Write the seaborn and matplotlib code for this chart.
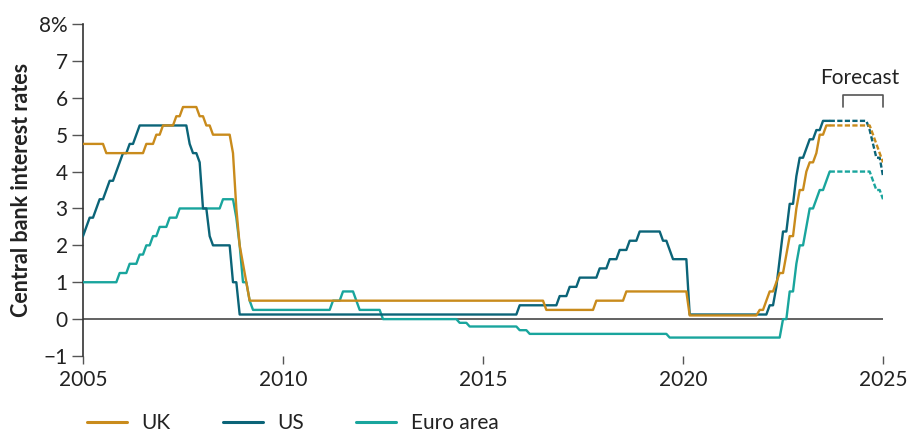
import pandas as pd
import matplotlib.pyplot as plt
import seaborn as sns

# Policy rates: month of each change and the new rate (%), forecast path included
uk_dates = ["2005-01", "2005-08", "2006-08", "2006-11", "2007-01", "2007-05", "2007-07",
            "2007-12", "2008-02", "2008-04", "2008-10", "2008-11", "2008-12", "2009-01",
            "2009-02", "2009-03", "2016-08", "2017-11", "2018-08", "2020-03", "2021-12",
            "2022-02", "2022-03", "2022-05", "2022-06", "2022-08", "2022-09", "2022-11",
            "2022-12", "2023-02", "2023-03", "2023-05", "2023-06", "2023-08", "2024-10",
            "2024-11", "2024-12", "2025-01"]
uk_rates = [4.75, 4.5, 4.75, 5.0, 5.25, 5.5, 5.75,
            5.5, 5.25, 5.0, 4.5, 3.0, 2.0, 1.5,
            1.0, 0.5, 0.25, 0.5, 0.75, 0.1, 0.25,
            0.5, 0.75, 1.0, 1.25, 1.75, 2.25, 3.0,
            3.5, 4.0, 4.25, 4.5, 5.0, 5.25, 5.0,
            4.75, 4.5, 4.25]

us_dates = ["2005-01", "2005-02", "2005-03", "2005-05", "2005-06", "2005-08", "2005-09",
            "2005-11", "2005-12", "2006-01", "2006-03", "2006-05", "2006-06", "2007-09",
            "2007-10", "2007-12", "2008-01", "2008-03", "2008-04", "2008-10", "2008-12",
            "2015-12", "2016-12", "2017-03", "2017-06", "2017-12", "2018-03", "2018-06",
            "2018-09", "2018-12", "2019-07", "2019-09", "2019-10", "2020-03", "2022-03",
            "2022-05", "2022-06", "2022-07", "2022-09", "2022-11", "2022-12", "2023-02",
            "2023-03", "2023-05", "2023-07", "2024-09", "2024-10", "2024-11", "2025-01"]
us_rates = [2.25, 2.5, 2.75, 3.0, 3.25, 3.5, 3.75,
            4.0, 4.25, 4.5, 4.75, 5.0, 5.25, 4.75,
            4.5, 4.25, 3.0, 2.25, 2.0, 1.0, 0.125,
            0.375, 0.625, 0.875, 1.125, 1.375, 1.625, 1.875,
            2.125, 2.375, 2.125, 1.875, 1.625, 0.125, 0.375,
            0.875, 1.625, 2.375, 3.125, 3.875, 4.375, 4.625,
            4.875, 5.125, 5.375, 5.125, 4.75, 4.375, 3.875]

euro_dates = ["2005-01", "2005-12", "2006-03", "2006-06", "2006-08", "2006-10", "2006-12",
              "2007-03", "2007-06", "2008-07", "2008-11", "2008-12", "2009-01", "2009-03",
              "2009-04", "2011-04", "2011-07", "2011-11", "2011-12", "2012-07", "2014-06",
              "2014-09", "2015-12", "2016-03", "2019-09", "2022-07", "2022-09", "2022-11",
              "2022-12", "2023-02", "2023-03", "2023-05", "2023-06", "2023-08", "2023-09",
              "2024-10", "2024-11", "2025-01"]
euro_rates = [1.0, 1.25, 1.5, 1.75, 2.0, 2.25, 2.5,
              2.75, 3.0, 3.25, 2.75, 2.0, 1.0, 0.5,
              0.25, 0.5, 0.75, 0.5, 0.25, 0.0, -0.1,
              -0.2, -0.3, -0.4, -0.5, 0.0, 0.75, 1.5,
              2.0, 2.5, 3.0, 3.25, 3.5, 3.75, 4.0,
              3.75, 3.5, 3.25]

areas = ["UK", "US", "Euro area"]
colors = {"UK": "#C98B1C", "US": "#0B6478", "Euro area": "#19A59D"}
forecast_from = "2023-09"
last_month = "2025-01"

y_ticks = [-1, 0, 1, 2, 3, 4, 5, 6, 7, 8]
y_labels = ["\u22121", "0", "1", "2", "3", "4", "5", "6", "7", "8%"]
x_ticks = [2005, 2010, 2015, 2020, 2025]


def monthly(dates, rates, name):
    # rate stays where it was set until the next change
    s = pd.Series(rates, index=pd.PeriodIndex(dates, freq="M"))
    s = s.reindex(pd.period_range(dates[0], last_month, freq="M")).ffill()
    return pd.DataFrame({"month": s.index, "rate": s.values, "area": name})


df = pd.concat([monthly(uk_dates, uk_rates, "UK"),
                monthly(us_dates, us_rates, "US"),
                monthly(euro_dates, euro_rates, "Euro area")], ignore_index=True)
df["year"] = df["month"].dt.year + (df["month"].dt.month - 1) / 12

cut = pd.Period(forecast_from, freq="M")
actual = df[df["month"] <= cut]
fcast = df[df["month"] >= cut]

sns.set_style("ticks")
plt.rcParams["font.family"] = ["Lato", "DejaVu Sans"]
text_col = "#222222"

fig = plt.figure(figsize=(9.08, 4.32), dpi=100)
ax = fig.add_axes([0.0914, 0.1759, 0.8811, 0.7685])

draw_order = ["Euro area", "US", "UK"]
ax.axhline(0, color="#555555", lw=1.3, zorder=1)
sns.lineplot(data=actual, x="year", y="rate", hue="area", hue_order=draw_order,
             palette=colors, lw=1.7, ax=ax, zorder=3)
sns.lineplot(data=fcast, x="year", y="rate", hue="area", hue_order=draw_order,
             palette=colors, lw=1.7, linestyle=(0, (2.2, 1.0)), legend=False,
             ax=ax, zorder=3)

ax.set_xlim(2005, 2025)
ax.set_ylim(-1, 8)
ax.set_xticks(x_ticks)
ax.set_xticklabels([str(t) for t in x_ticks])
ax.set_yticks(y_ticks)
ax.set_yticklabels(y_labels)
ax.set_xlabel("")
ax.set_ylabel("Central bank interest rates", fontsize=15.5, fontweight="bold",
              color=text_col, labelpad=5)

for side in ["top", "right", "bottom"]:
    ax.spines[side].set_visible(False)
ax.spines["left"].set_color("#333333")
ax.spines["left"].set_linewidth(1.2)
ax.tick_params(axis="y", length=8, width=1, color="#555555", pad=3,
               labelsize=15, labelcolor=text_col)
ax.tick_params(axis="x", length=6, width=1, color="#555555", pad=4,
               labelsize=15, labelcolor=text_col)

# forecast bracket
ax.plot([2024, 2024, 2025, 2025], [5.75, 6.07, 6.07, 5.75], color="#555555",
        lw=1.2, clip_on=False)
ax.text(2024.42, 6.55, "Forecast", ha="center", va="center", fontsize=15,
        color=text_col)

handles, labels = ax.get_legend_handles_labels()
ax.get_legend().remove()
lookup = dict(zip(labels, handles))
leg = fig.legend([lookup[a] for a in areas], areas, loc="center left",
                 bbox_to_anchor=(0.0955, 0.02), ncol=3, frameon=False,
                 fontsize=15, handlelength=1.92, handletextpad=0.7,
                 columnspacing=2.5, borderpad=0, borderaxespad=0)
for t in leg.get_texts():
    t.set_color(text_col)
for h in leg.legend_handles:
    h.set_linewidth(2.2)

fig.savefig("out.png", dpi=100)
